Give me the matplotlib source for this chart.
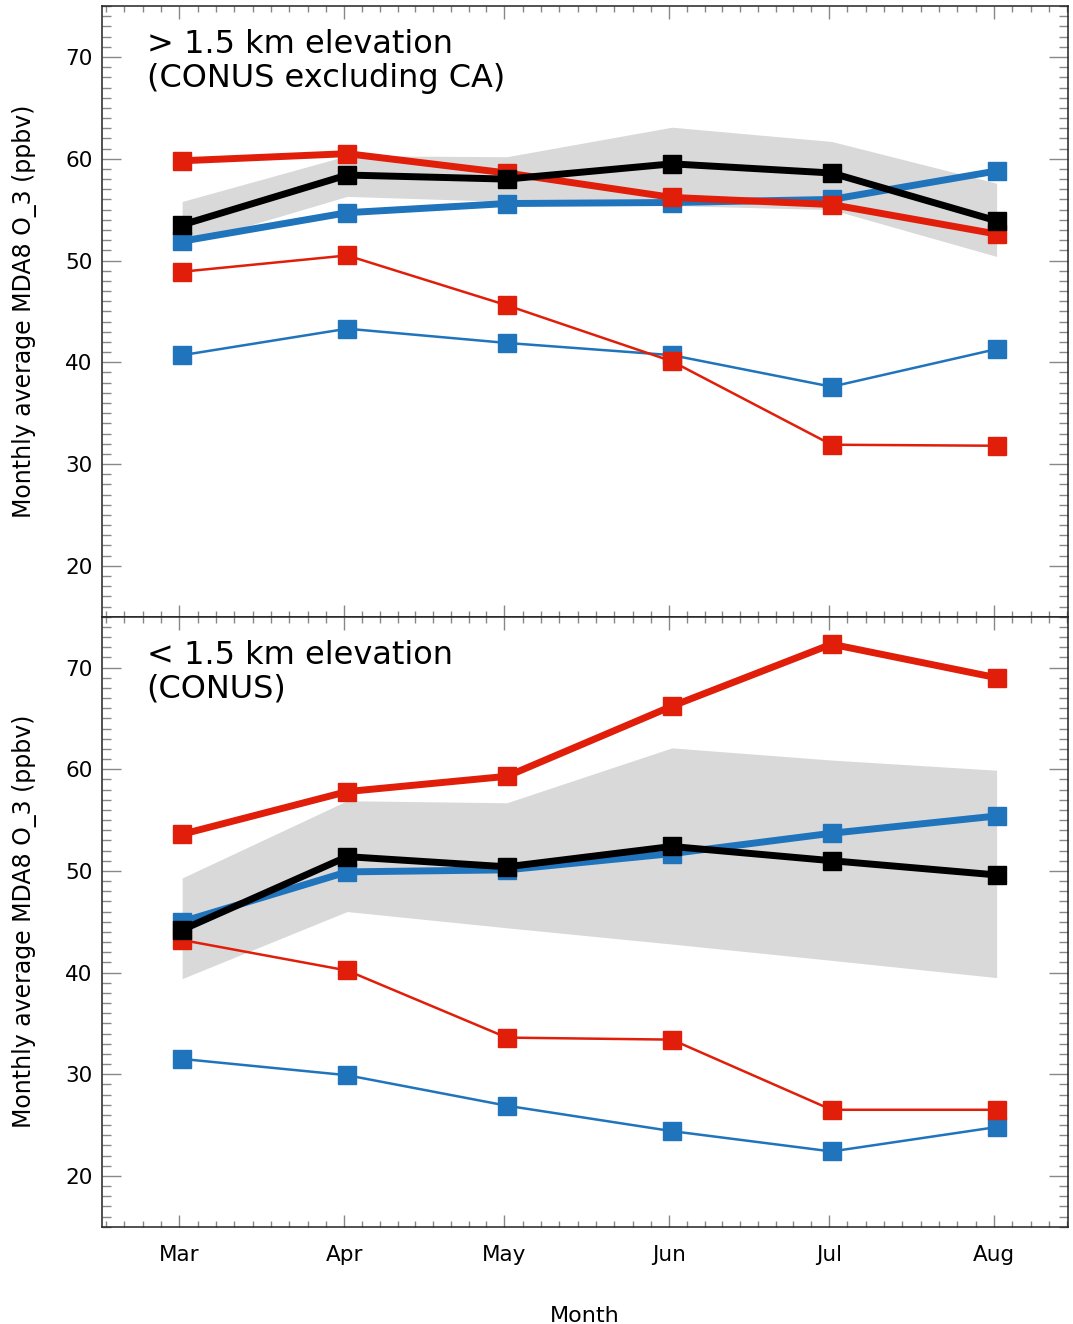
# Monthly average MDA8 ozone, high vs low elevation sites
import numpy as np
import matplotlib.pyplot as plt

months = ["Mar", "Apr", "May", "Jun", "Jul", "Aug"]
# day of year at mid-month
day = [74, 105, 135, 166, 196, 227]

# top panel: > 1.5 km elevation
hi_black = [53.5, 58.4, 58.0, 59.5, 58.6, 53.9]
hi_blue_thick = [51.9, 54.7, 55.6, 55.7, 56.0, 58.8]
hi_red_thick = [59.8, 60.5, 58.6, 56.2, 55.5, 52.6]
hi_blue_thin = [40.7, 43.3, 41.9, 40.7, 37.6, 41.3]
hi_red_thin = [48.9, 50.5, 45.6, 40.1, 31.9, 31.8]
hi_band_lo = [51.5, 56.3, 55.8, 55.4, 55.0, 50.4]
hi_band_hi = [55.8, 60.3, 60.2, 63.1, 61.7, 57.6]

# bottom panel: < 1.5 km elevation
lo_black = [44.2, 51.4, 50.4, 52.4, 51.0, 49.6]
lo_blue_thick = [45.0, 49.9, 50.1, 51.7, 53.7, 55.4]
lo_red_thick = [53.6, 57.8, 59.3, 66.2, 72.3, 69.0]
lo_blue_thin = [31.5, 29.9, 26.9, 24.4, 22.4, 24.8]
lo_red_thin = [43.2, 40.2, 33.6, 33.4, 26.5, 26.5]
lo_band_lo = [39.4, 46.0, 44.4, 42.8, 41.2, 39.5]
lo_band_hi = [49.3, 56.9, 56.7, 62.1, 60.9, 59.9]

RED = "#e01e0a"
BLUE = "#1f74bc"
GRAY = "#d9d9d9"

fig = plt.figure(figsize=(10.73, 13.24), dpi=100)
ax1 = fig.add_axes([0.0953, 0.5342, 0.900, 0.4612])
ax2 = fig.add_axes([0.0953, 0.0735, 0.900, 0.4607])

# major ticks half a day before the mid-month points, 9 minor steps between
major = np.array(day) - 0.5
step = np.diff(major)
minor = []
for i in range(len(major) - 1):
    minor += list(np.linspace(major[i], major[i + 1], 10)[1:-1])
minor += [major[0] - step[0] / 9 * k for k in range(1, 5)]
minor += [major[-1] + step[-1] / 9 * k for k in range(1, 5)]


def draw_panel(ax, band_lo, band_hi, blue_thin, red_thin, blue_thick, red_thick, black, title):
    ax.fill_between(day, band_lo, band_hi, color=GRAY, lw=0, zorder=1)
    ax.plot(day, blue_thin, color=BLUE, lw=1.8, marker="s", ms=12.5, zorder=2)
    ax.plot(day, red_thin, color=RED, lw=1.8, marker="s", ms=12.5, zorder=3)
    ax.plot(day, blue_thick, color=BLUE, lw=5, marker="s", ms=13, zorder=4)
    ax.plot(day, red_thick, color=RED, lw=5, marker="s", ms=13, zorder=5)
    ax.plot(day, black, color="black", lw=5, marker="s", ms=13, zorder=6)

    ax.set_xlim(59.0, 240.4)
    ax.set_ylim(15, 75)
    ax.set_yticks(np.arange(20, 71, 10))
    ax.set_yticks(np.arange(15, 76, 1), minor=True)
    ax.set_xticks(major)
    ax.set_xticks(minor, minor=True)

    ax.tick_params(which="both", direction="in", top=True, right=True,
                   color="#888888", width=1.0, labelsize=15.5, pad=7)
    ax.tick_params(axis="y", which="major", length=14)
    ax.tick_params(axis="y", which="minor", length=6.5)
    ax.tick_params(axis="x", which="major", length=9)
    ax.tick_params(axis="x", which="minor", length=4.5)
    for s in ax.spines.values():
        s.set_color("#222222")
        s.set_linewidth(1.1)

    ax.set_ylabel("Monthly average MDA8 O_3 (ppbv)", fontsize=17)
    ax.yaxis.set_label_coords(-0.068, 0.5)
    ax.text(0.046, 0.962, title, transform=ax.transAxes, ha="left", va="top",
            fontsize=23, linespacing=1.1)


draw_panel(ax1, hi_band_lo, hi_band_hi, hi_blue_thin, hi_red_thin,
           hi_blue_thick, hi_red_thick, hi_black,
           "> 1.5 km elevation\n(CONUS excluding CA)")
draw_panel(ax2, lo_band_lo, lo_band_hi, lo_blue_thin, lo_red_thin,
           lo_blue_thick, lo_red_thick, lo_black,
           "< 1.5 km elevation\n(CONUS)")

ax1.set_xticklabels([])
ax2.set_xticklabels(months)
ax2.tick_params(axis="x", which="major", pad=13)
ax2.set_xlabel("Month", fontsize=16, labelpad=30)

fig.savefig("out.png", dpi=100)
